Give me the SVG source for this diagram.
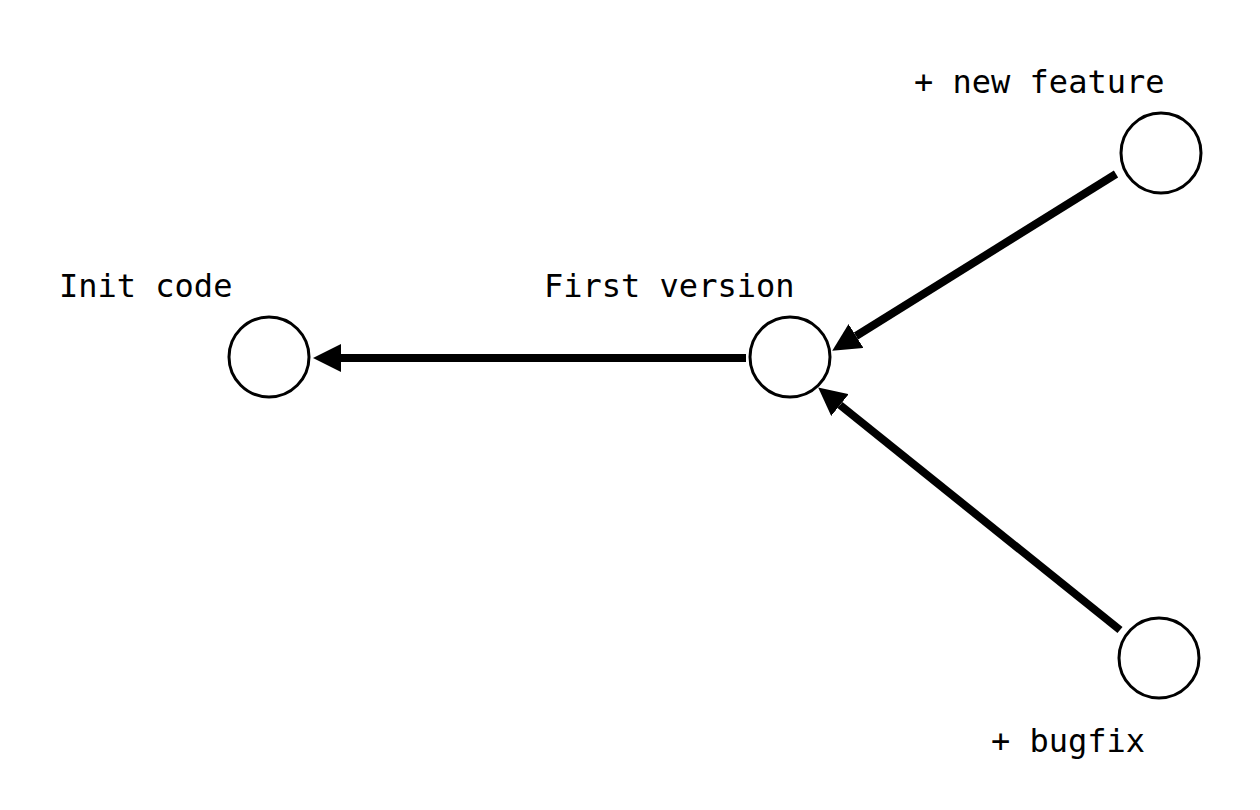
<svg xmlns="http://www.w3.org/2000/svg" width="1260" height="810" viewBox="0 0 1260 810">
<style>
  .node circle { fill: #ffffff; stroke: #000000; stroke-width: 3; }
  .label { font-family: "DejaVu Sans Mono", "Liberation Mono", monospace; font-size: 32px; fill: #000000; }
  .edge { stroke: #000000; stroke-width: 8; fill: none; marker-end: url(#arrow); }
</style>
<defs>
  <marker id="arrow" markerUnits="userSpaceOnUse" viewBox="0 0 28 28" refX="0" refY="14" markerWidth="28" markerHeight="28" orient="auto">
    <path d="M0,0 L28,14 L0,28 Z" fill="#000000"/>
  </marker>
</defs>
<rect width="1260" height="810" fill="#ffffff"/>
<g id="connectors">
  <path class="edge" d="M746,358 L341,358"/>
  <path class="edge" d="M1116,174 L856,336"/>
  <path class="edge" d="M1120,630 L840,405"/>
</g>
<g id="node-init" class="node">
  <circle cx="269" cy="357" r="40"/>
  <text class="label" x="59" y="297">Init code</text>
</g>
<g id="node-first" class="node">
  <circle cx="790" cy="357" r="40"/>
  <text class="label" x="544" y="297">First version</text>
</g>
<g id="node-feature" class="node">
  <circle cx="1161" cy="153" r="40"/>
  <text class="label" x="914" y="93">+ new feature</text>
</g>
<g id="node-bugfix" class="node">
  <circle cx="1159" cy="658" r="40"/>
  <text class="label" x="991" y="752">+ bugfix</text>
</g>
</svg>
